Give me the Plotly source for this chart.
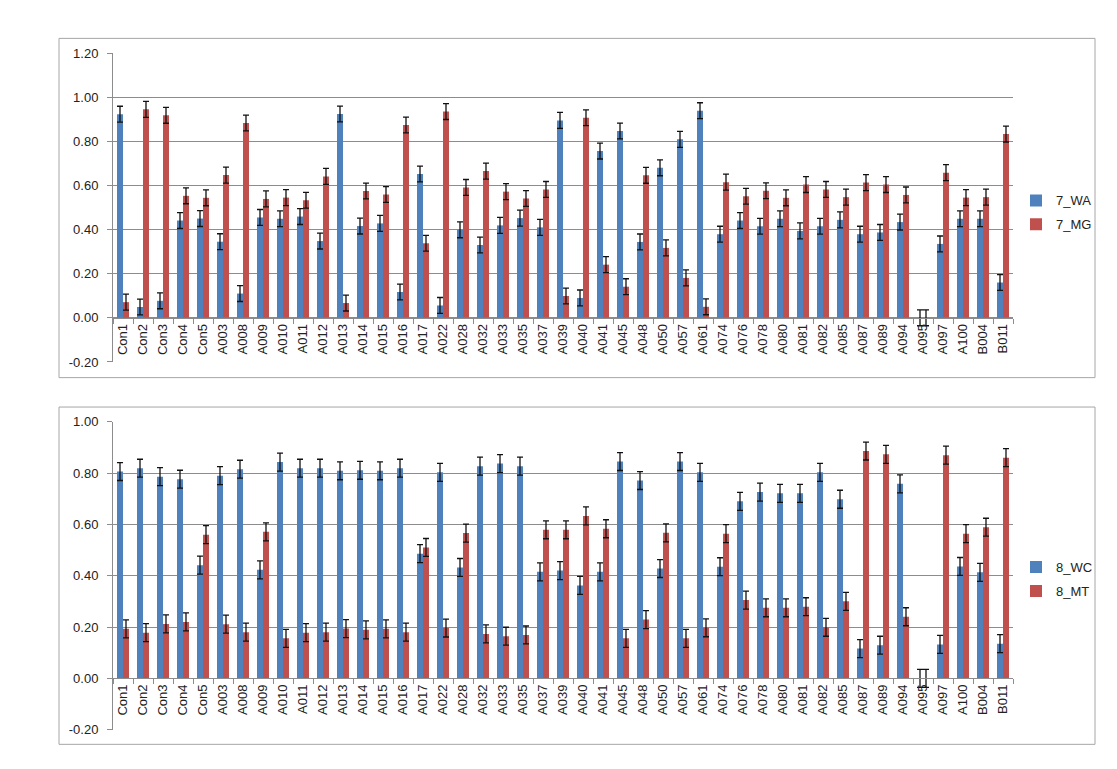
import plotly.graph_objects as go

categories = ["Con1", "Con2", "Con3", "Con4", "Con5", "A003", "A008", "A009", "A010", "A011",
              "A012", "A013", "A014", "A015", "A016", "A017", "A022", "A028", "A032", "A033",
              "A035", "A037", "A039", "A040", "A041", "A045", "A048", "A050", "A057", "A061",
              "A074", "A076", "A078", "A080", "A081", "A082", "A085", "A087", "A089", "A094",
              "A095", "A097", "A100", "B004", "B011"]

wa_7 = [0.923, 0.049, 0.077, 0.441, 0.450, 0.345, 0.110, 0.455, 0.449, 0.459,
        0.348, 0.924, 0.416, 0.428, 0.117, 0.652, 0.056, 0.399, 0.330, 0.419,
        0.452, 0.410, 0.895, 0.090, 0.756, 0.847, 0.344, 0.680, 0.809, 0.939,
        0.379, 0.441, 0.415, 0.449, 0.394, 0.415, 0.444, 0.379, 0.387, 0.434,
        0.0, 0.335, 0.449, 0.449, 0.160]
mg_7 = [0.071, 0.945, 0.918, 0.553, 0.544, 0.647, 0.883, 0.539, 0.545, 0.533,
        0.641, 0.067, 0.575, 0.559, 0.874, 0.338, 0.935, 0.591, 0.665, 0.572,
        0.541, 0.582, 0.099, 0.907, 0.241, 0.141, 0.646, 0.317, 0.181, 0.050,
        0.615, 0.551, 0.576, 0.544, 0.604, 0.582, 0.547, 0.613, 0.604, 0.557,
        0.0, 0.658, 0.545, 0.547, 0.833]

wc_8 = [0.806, 0.819, 0.786, 0.776, 0.441, 0.790, 0.815, 0.423, 0.843, 0.819,
        0.819, 0.809, 0.811, 0.809, 0.819, 0.486, 0.803, 0.432, 0.827, 0.837,
        0.827, 0.415, 0.420, 0.362, 0.415, 0.845, 0.771, 0.428, 0.845, 0.803,
        0.435, 0.690, 0.726, 0.721, 0.721, 0.803, 0.698, 0.116, 0.129, 0.758,
        0.0, 0.132, 0.436, 0.413, 0.135]
mt_8 = [0.193, 0.178, 0.212, 0.220, 0.560, 0.211, 0.180, 0.571, 0.156, 0.178,
        0.180, 0.194, 0.189, 0.193, 0.180, 0.510, 0.196, 0.566, 0.173, 0.164,
        0.169, 0.579, 0.579, 0.633, 0.583, 0.156, 0.229, 0.567, 0.156, 0.197,
        0.564, 0.305, 0.275, 0.275, 0.279, 0.199, 0.300, 0.886, 0.873, 0.240,
        0.0, 0.870, 0.564, 0.589, 0.860]

err_7 = 0.036
err_8 = 0.035

top_tick_vals = [-0.2, 0.0, 0.2, 0.4, 0.6, 0.8, 1.0, 1.2]
top_tick_text = ["-0.20", "0.00", "0.20", "0.40", "0.60", "0.80", "1.00", "1.20"]
bot_tick_vals = [-0.2, 0.0, 0.2, 0.4, 0.6, 0.8, 1.0]
bot_tick_text = ["-0.20", "0.00", "0.20", "0.40", "0.60", "0.80", "1.00"]

BLUE = "#4F81BD"
RED = "#C0504D"
GRID = "#8C8C8C"
W, H = 1117, 769

def px_x(p):
    return p / W

def px_y(p):
    return (H - p) / H

xdom = [px_x(113), px_x(1013)]
ydom_top = [px_y(362), px_y(47)]
ydom_bot = [px_y(737), px_y(423)]

fig = go.Figure()

def add_bar(name, vals, color, err, xa, ya, legend):
    fig.add_trace(go.Bar(
        x=categories, y=vals, name=name, marker=dict(color=color, line=dict(width=0)),
        error_y=dict(type="data", array=[err] * len(vals), visible=True,
                     color="#111111", thickness=1.3, width=3),
        xaxis=xa, yaxis=ya, legend=legend, legendgroup=name,
    ))

add_bar("7_WA", wa_7, BLUE, err_7, "x", "y", "legend")
add_bar("7_MG", mg_7, RED, err_7, "x", "y", "legend")
add_bar("8_WC", wc_8, BLUE, err_8, "x2", "y2", "legend2")
add_bar("8_MT", mt_8, RED, err_8, "x2", "y2", "legend2")

FAM = "Liberation Sans, Arial, sans-serif"
font = dict(family=FAM, size=13, color="#222222")

def xaxis_cfg(pos):
    return dict(domain=xdom, anchor="free", position=pos, type="category",
                showline=True, linecolor=GRID, linewidth=1,
                ticks="outside", ticklen=5, tickcolor=GRID, tickson="boundaries",
                tickangle=-90, tickfont=font, showgrid=False, fixedrange=True)

def yaxis_cfg(dom, rng, xa, tv, tt):
    return dict(domain=dom, anchor=xa, range=rng, tickmode="array",
                tickvals=tv, ticktext=tt, showline=True, linecolor=GRID, linewidth=1,
                ticks="outside", ticklen=5, tickcolor=GRID, ticklabelstandoff=6,
                showgrid=True, gridcolor=GRID, gridwidth=1, zeroline=False,
                tickfont=font, fixedrange=True)

pos_top = ydom_top[0] + (0.2 / 1.4) * (ydom_top[1] - ydom_top[0])
pos_bot = ydom_bot[0] + (0.2 / 1.2) * (ydom_bot[1] - ydom_bot[0])

legend_font = dict(family=FAM, size=13, color="#222222")

fig.update_layout(
    width=W, height=H,
    margin=dict(l=0, r=0, t=0, b=0),
    paper_bgcolor="white", plot_bgcolor="white",
    barmode="group", bargap=0.4, bargroupgap=0.0,
    font=font,
    xaxis=xaxis_cfg(pos_top),
    xaxis2=xaxis_cfg(pos_bot),
    yaxis=yaxis_cfg(ydom_top, [-0.2, 1.2001], "x", top_tick_vals, top_tick_text),
    yaxis2=yaxis_cfg(ydom_bot, [-0.2, 1.0001], "x2", bot_tick_vals, bot_tick_text),
    legend=dict(x=px_x(1016), y=px_y(182), xanchor="left", yanchor="top",
                font=legend_font, tracegroupgap=4, itemwidth=30,
                bgcolor="rgba(0,0,0,0)"),
    legend2=dict(x=px_x(1016), y=px_y(556), xanchor="left", yanchor="top",
                 font=legend_font, tracegroupgap=4, itemwidth=30,
                 bgcolor="rgba(0,0,0,0)"),
    shapes=[
        dict(type="rect", xref="paper", yref="paper",
             x0=px_x(59), x1=px_x(1095), y0=px_y(378), y1=px_y(32),
             line=dict(color="#A6A6A6", width=1), fillcolor="rgba(0,0,0,0)", layer="below"),
        dict(type="rect", xref="paper", yref="paper",
             x0=px_x(59), x1=px_x(1095), y0=px_y(752), y1=px_y(408),
             line=dict(color="#A6A6A6", width=1), fillcolor="rgba(0,0,0,0)", layer="below"),
    ],
    showlegend=True,
)

fig.write_html("out.html",
               config={"displayModeBar": False},
               post_script="document.body.style.margin='0';document.body.style.overflow='hidden';")
